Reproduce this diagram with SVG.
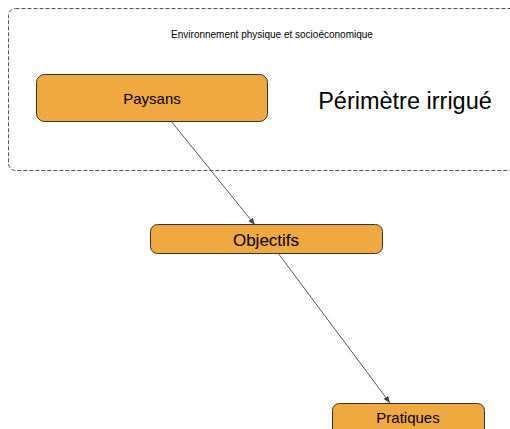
<svg xmlns="http://www.w3.org/2000/svg" width="510" height="429" viewBox="0 0 510 429">
<style>
.node{fill:#F0A841;stroke:#333;stroke-width:1}
.t{font-family:"Liberation Sans",Arial,sans-serif;fill:#000;text-anchor:middle}
.edge{stroke:#555;stroke-width:1;fill:none}
</style>
<defs>
<marker id="arr" viewBox="0 0 10 10" refX="10" refY="5" markerWidth="7" markerHeight="7" orient="auto" markerUnits="userSpaceOnUse">
<path d="M0,1 L10,5 L0,9 z" fill="#444"/>
</marker>
</defs>
<rect width="510" height="429" fill="#fff"/>
<g id="container">
<rect x="8.5" y="8.5" width="520" height="162" rx="7" fill="none" stroke="#555" stroke-width="1" stroke-dasharray="4,2"/>
<text class="t" x="272" y="38" font-size="10">Environnement physique et socioéconomique</text>
<text class="t" x="405" y="109" font-size="23.5">Périmètre irrigué</text>
</g>
<g id="edges">
<line class="edge" x1="171" y1="121" x2="255" y2="225" marker-end="url(#arr)"/>
<line class="edge" x1="278" y1="253" x2="390" y2="403" marker-end="url(#arr)"/>
</g>
<g id="paysans">
<rect class="node" x="36.5" y="74.5" width="231" height="47" rx="8"/>
<text class="t" x="152" y="104" font-size="15">Paysans</text>
</g>
<g id="objectifs">
<rect class="node" x="150.5" y="224.5" width="232" height="29" rx="7"/>
<text class="t" x="266" y="246" font-size="17">Objectifs</text>
</g>
<g id="pratiques">
<rect class="node" x="332.5" y="403.5" width="152" height="35" rx="7"/>
<text class="t" x="408" y="423" font-size="15">Pratiques</text>
</g>
</svg>
